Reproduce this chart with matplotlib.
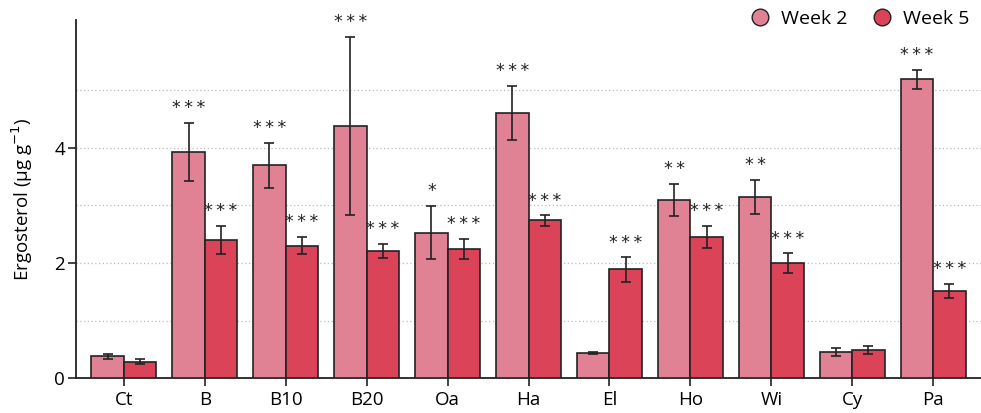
import numpy as np
import matplotlib
matplotlib.use("Agg")
import matplotlib.pyplot as plt

plt.rcParams['font.family'] = ['Open Sans', 'DejaVu Sans']

categories = ["Ct", "B", "B10", "B20", "Oa", "Ha", "El", "Ho", "Wi", "Cy", "Pa"]
week2 = [0.38, 3.93, 3.70, 4.38, 2.53, 4.61, 0.44, 3.10, 3.15, 0.46, 5.19]
week2_err = [0.04, 0.51, 0.39, 1.55, 0.46, 0.47, 0.02, 0.28, 0.30, 0.065, 0.17]
week5 = [0.29, 2.40, 2.30, 2.21, 2.245, 2.74, 1.89, 2.46, 2.00, 0.49, 1.52]
week5_err = [0.04, 0.24, 0.15, 0.12, 0.17, 0.09, 0.21, 0.19, 0.17, 0.075, 0.12]
week2_sig = ["", "***", "***", "***", "*", "***", "", "**", "**", "", "***"]
week5_sig = ["", "***", "***", "***", "***", "***", "***", "***", "***", "", "***"]

c_w2 = "#E08194"
c_w5 = "#DB4458"
edge = "#222222"

fig = plt.figure(figsize=(9.81, 4.13), dpi=100)
ax = fig.add_axes([0.0775, 0.084, 0.9225, 0.8676])

x = np.arange(len(categories))
w = 0.4
ax.bar(x - w / 2, week2, w, color=c_w2, edgecolor=edge, linewidth=1.2, zorder=3)
ax.bar(x + w / 2, week5, w, color=c_w5, edgecolor=edge, linewidth=1.2, zorder=3)
ax.errorbar(x - w / 2, week2, yerr=week2_err, fmt="none", ecolor=edge,
            elinewidth=1.2, capsize=3.5, capthick=1.2, zorder=4)
ax.errorbar(x + w / 2, week5, yerr=week5_err, fmt="none", ecolor=edge,
            elinewidth=1.2, capsize=3.5, capthick=1.2, zorder=4)


def stars(s):
    # asterisks set slightly apart
    return "\u2009".join(s)


for xi, v, e, s in zip(x - w / 2, week2, week2_err, week2_sig):
    if s:
        ax.text(xi, v + e + 0.1, stars(s), ha="center", va="bottom", fontsize=12.5,
                family="DejaVu Sans", color="#222222")
for xi, v, e, s in zip(x + w / 2, week5, week5_err, week5_sig):
    if s:
        ax.text(xi, v + e + 0.1, stars(s), ha="center", va="bottom", fontsize=12.5,
                family="DejaVu Sans", color="#222222")

ax.set_xlim(-0.59, len(categories) - 1 + 0.59)
ax.set_ylim(0, 6.22)
ax.set_yticks([0, 2, 4])
ax.set_yticks([1, 2, 3, 4, 5], minor=True)
ax.tick_params(axis="y", which="minor", length=0)
ax.grid(axis="y", which="both", linestyle=(0, (1, 2)), color="#BBBBBB", linewidth=0.9, zorder=0)
ax.set_xticks(x)
ax.set_xticklabels(categories)
ax.tick_params(axis="both", labelsize=13.5, width=1.2, length=6, color="#222222")
ax.tick_params(axis="x", pad=3)
ax.tick_params(axis="y", pad=2)

for side in ["top", "right"]:
    ax.spines[side].set_visible(False)
for side in ["left", "bottom"]:
    ax.spines[side].set_linewidth(1.3)
    ax.spines[side].set_color("#222222")

ax.set_ylabel("Ergosterol (μg g$^{-1}$)", fontsize=13.5, labelpad=14)

handles = [
    plt.Line2D([], [], marker="o", linestyle="none", markersize=12,
               markerfacecolor=c_w2, markeredgecolor=edge, markeredgewidth=1.0),
    plt.Line2D([], [], marker="o", linestyle="none", markersize=12,
               markerfacecolor=c_w5, markeredgecolor=edge, markeredgewidth=1.0),
]
ax.legend(handles, ["Week 2", "Week 5"], loc="upper right", bbox_to_anchor=(1.0, 1.06),
          ncol=2, frameon=False, fontsize=14, handletextpad=0.1, columnspacing=0.75,
          borderaxespad=0.2)

fig.savefig("out.png", dpi=100)
